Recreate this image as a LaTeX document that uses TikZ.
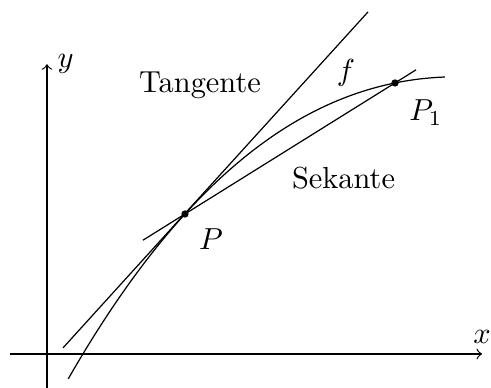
\documentclass[tikz,border=0pt]{standalone}
\usepackage{amsmath}
\usepackage{tikz}
\usetikzlibrary{calc}

\begin{document}
\begin{tikzpicture}
  \useasboundingbox (-0.543,-0.393) rectangle (5.133,4.092);
  % Achsen
  \coordinate (xa) at (-0.43,0);
  \coordinate (xb) at (5.03,0);
  \coordinate (ya) at (0,-0.393);
  \coordinate (yb) at (0,3.35);
  \draw[->] (xa) -- (xb) node[above] (xlab) {$x$};
  \draw[->] (ya) -- (yb) node[right] (ylab) {$y$};
  % Punkte auf f
  \coordinate (P) at (1.595,1.618);
  \coordinate (P1) at (4.023,3.133);
  % Tangente und Sekante
  \coordinate (ta) at (0.185,0.07);
  \coordinate (tb) at (3.711,3.954);
  \coordinate (sa) at ($(P)!-0.2!(P1)$);
  \coordinate (sb) at ($(P)!1.1!(P1)$);
  \draw (ta) -- (tb);
  \draw (sa) -- (sb);
  % f
  \draw[domain=0.246:4.6, samples=60, smooth]
    plot (\x, {1.618+1.1*(\x-1.595)-0.2189*(\x-1.595)*(\x-1.595)+0.0094*(\x-1.595)*(\x-1.595)*(\x-1.595)});
  \fill (P) circle (1.2pt);
  \fill (P1) circle (1.2pt);
  \node (Plab) at (1.896,1.329) {$P$};
  \node (P1lab) at (4.38,2.79) {$P_1$};
  \node (flab) at (3.457,3.249) {$f$};
  \node (tanlab) at (1.769,3.104) {Tangente};
  \node (seklab) at (3.428,2.035) {Sekante};
\end{tikzpicture}
\end{document}
